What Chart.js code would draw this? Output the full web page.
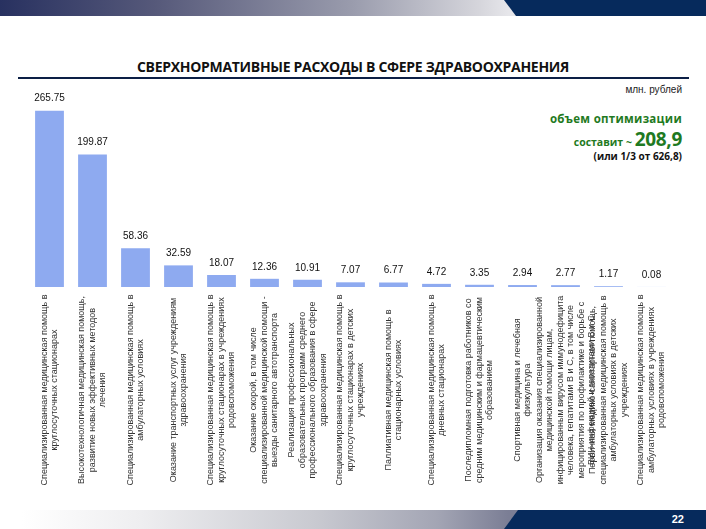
<!DOCTYPE html>
<html lang="ru">
<head>
<meta charset="utf-8">
<title>Сверхнормативные расходы в сфере здравоохранения</title>
<script src="https://cdn.jsdelivr.net/npm/chart.js@4/dist/chart.umd.min.js"></script>
<style>
  body { margin: 0; background: #fff; }
  #slide { position: relative; width: 706px; height: 529px; overflow: hidden; background: #fff; font-family: "Liberation Sans", Arial, sans-serif; }
  .bar-top { position: absolute; left: 0; top: 0; width: 706px; height: 16px;
    background: linear-gradient(to right, #283160 0%, #56597a 22%, #9a9cad 50%, #d6d6dc 68%, #e6e6ea 72%); }
  .bar-top .navy { position: absolute; top: 0; right: 0; width: 202px; height: 16px; background: #062a5c;
    clip-path: polygon(0 0, 100% 0, 100% 100%, 12px 100%); }
  .bar-bot { position: absolute; left: 0; top: 510px; width: 706px; height: 19px;
    background: linear-gradient(to right, #ffffff 3%, #eeeef0 20%, #c8c9d0 45%, #a3a5b4 62%, #7b7e95 72%); }
  .bar-bot .navy { position: absolute; top: 0; right: 0; width: 202px; height: 19px; background: #062a5c;
    clip-path: polygon(14px 0, 100% 0, 100% 100%, 0 100%); }
  .pagenum { position: absolute; right: 22px; top: 3px; color: #fff; font: bold 11px "Liberation Sans", Arial, sans-serif; }
  #title { position: absolute; left: 0; width: 706px; top: 57px; text-align: center; font: bold 14px "Open Sans", sans-serif; color: #111; letter-spacing: -0.3px; }
  #rule { position: absolute; left: 18px; width: 671px; top: 77px; height: 2px; background: #0c1f45; }
  #unit { position: absolute; right: 24px; top: 84px; font-size: 10px; color: #222; }
  .note { position: absolute; right: 24px; text-align: right; font-family: "Open Sans", sans-serif; font-weight: bold; white-space: nowrap; }
  #note1 { top: 111px; font-size: 11.5px; color: #1f7a22; letter-spacing: 0.3px; }
  #note2 { top: 126px; font-size: 10.5px; color: #1f7a22; }
  #note2 span { font-size: 19px; letter-spacing: -0.3px; }
  #note3 { top: 149px; font-size: 10px; color: #111; }
  canvas { position: absolute; left: 0; top: 0; }
</style>
</head>
<body>
<div id="slide">
  <div class="bar-top"><div class="navy"></div></div>
  <div id="title">СВЕРХНОРМАТИВНЫЕ РАСХОДЫ В СФЕРЕ ЗДРАВООХРАНЕНИЯ</div>
  <div id="rule"></div>
  <div id="unit">млн. рублей</div>
  <div class="note" id="note1">объем оптимизации</div>
  <div class="note" id="note2">составит ~ <span>208,9</span></div>
  <div class="note" id="note3">(или 1/3 от 626,8)</div>
  <canvas id="myChart" width="706" height="529"></canvas>
  <div class="bar-bot"><div class="navy"></div><div class="pagenum">22</div></div>
</div>

<script>
    // статьи расходов (подписи по строкам)
    const categories = [
        ["Специализированная медицинская помощь в", "круглосуточных стационарах"],
        ["Высокотехнологичная медицинская помощь,", "развитие новых эффективных методов", "лечения"],
        ["Специализированная медицинская помощь в", "амбулаторных условиях"],
        ["Оказание транспортных услуг учреждениям", "здравоохранения"],
        ["Специализированная медицинская помощь в", "круглосуточных стационарах в учреждениях", "родовспоможения"],
        ["Оказание скорой, в том числе", "специализированной медицинской помощи -", "выезды санитарного автотранспорта"],
        ["Реализация профессиональных", "образовательных программ среднего", "профессионального образования в сфере", "здравоохранения"],
        ["Специализированная медицинская помощь в", "круглосуточных стационарах в детских", "учреждениях"],
        ["Паллиативная медицинская помощь в", "стационарных условиях"],
        ["Специализированная медицинская помощь в", "дневных стационарах"],
        ["Последипломная подготовка работников со", "средним медицинским и фармацевтическим", "образованием"],
        ["Спортивная медицина и лечебная", "физкультура"],
        ["Организация оказания специализированной", "медицинской помощи лицам,", "инфицированным вирусом иммунодефицита", "человека, гепатитами В и С, в том числе", "мероприятия по профилактике и борьбе с", "ВИЧ-инфекцией и гепатитами В и С"],
        ["Первичная медико-санитарная помощь,", "специализированная медицинская помощь в", "амбулаторных условиях в детских", "учреждениях"],
        ["Специализированная медицинская помощь в", "амбулаторных условиях в учреждениях", "родовспоможения"]
    ];

    // млн. рублей
    const values = [265.75, 199.87, 58.36, 32.59, 18.07, 12.36, 10.91, 7.07, 6.77, 4.72, 3.35, 2.94, 2.77, 1.17, 0.08];

    const valueLabels = values.map(v => v.toFixed(2));

    // подписи над столбцами и повёрнутые подписи категорий
    const labelsPlugin = {
        id: 'labelsPlugin',
        afterDatasetsDraw(chart) {
            const ctx = chart.ctx;
            const meta = chart.getDatasetMeta(0);
            const xScale = chart.scales.x;

            ctx.save();
            ctx.fillStyle = '#111';
            ctx.font = '10px "Liberation Sans", Arial, sans-serif';
            ctx.textAlign = 'center';
            ctx.textBaseline = 'middle';
            meta.data.forEach((bar, i) => {
                ctx.fillText(valueLabels[i], bar.x, bar.y - 12);
            });
            ctx.restore();

            ctx.save();
            ctx.fillStyle = '#333';
            ctx.font = '9px "Liberation Sans", Arial, sans-serif';
            ctx.textAlign = 'center';
            ctx.textBaseline = 'middle';
            const lineH = 10.5;
            categories.forEach((lines, i) => {
                const x = xScale.getPixelForValue(i);
                ctx.save();
                ctx.translate(x, chart.chartArea.bottom + 103);
                ctx.rotate(-Math.PI / 2);
                const off = (lines.length - 1) * lineH / 2;
                lines.forEach((t, k) => {
                    ctx.fillText(t, 0, k * lineH - off);
                });
                ctx.restore();
            });
            ctx.restore();
        }
    };

    const config = {
        type: 'bar',
        data: {
            labels: categories.map((c, i) => i),
            datasets: [
                {
                    data: values,
                    backgroundColor: '#8eaaf0',
                    borderWidth: 0,
                    barPercentage: 0.67,
                    categoryPercentage: 1
                }
            ]
        },
        options: {
            responsive: false,
            animation: false,
            layout: {
                padding: { left: 28, right: 33, top: 88, bottom: 242 }
            },
            plugins: {
                legend: { display: false },
                tooltip: { enabled: false }
            },
            scales: {
                x: { display: false },
                y: { display: false, min: 0, max: 300 }
            }
        },
        plugins: [labelsPlugin]
    };

    new Chart(document.getElementById('myChart'), config);
</script>
</body>
</html>
